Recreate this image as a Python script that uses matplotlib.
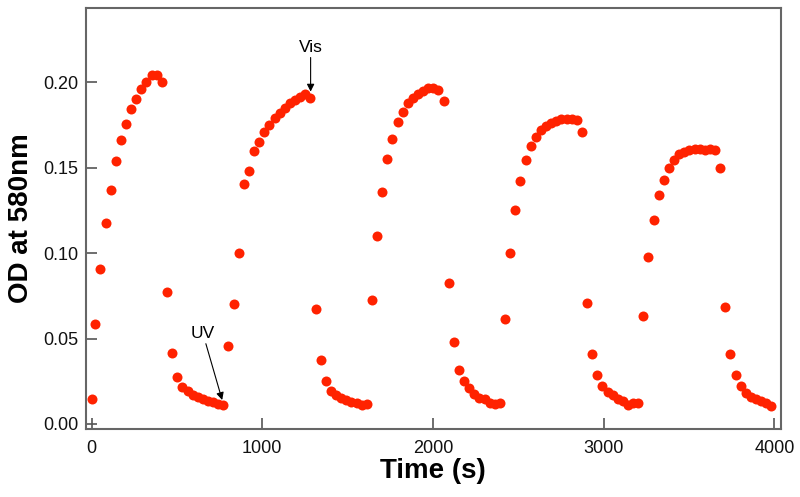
import matplotlib.pyplot as plt

# readings, one list pair per switching cycle
t_cycle1 = [0, 20, 50, 82, 111, 141, 172, 199, 230, 259, 290, 320, 351, 381, 412,
            442, 472, 502, 532, 562, 592, 622, 652, 682, 712, 742, 772]
od_cycle1 = [0.0145, 0.0587, 0.0907, 0.1175, 0.137, 0.1538, 0.166, 0.1756, 0.1844, 0.190,
             0.196, 0.200, 0.2045, 0.2045, 0.200,
             0.0775, 0.0418, 0.0275, 0.0215, 0.019, 0.0172, 0.0157, 0.0145, 0.0135,
             0.0126, 0.0118, 0.0108]

t_cycle2 = [802, 832, 862, 892, 922, 952, 982, 1012, 1042, 1072, 1102, 1132, 1162, 1192,
            1222, 1252, 1282,
            1312, 1342, 1372, 1402, 1432, 1462, 1492, 1522, 1552, 1582, 1612]
od_cycle2 = [0.0458, 0.0704, 0.1003, 0.1403, 0.148, 0.160, 0.165, 0.171, 0.175, 0.179,
             0.182, 0.1848, 0.1878, 0.1897, 0.1916, 0.193, 0.191,
             0.0671, 0.0373, 0.0254, 0.0193, 0.017, 0.0152, 0.0138, 0.0128, 0.0122,
             0.0108, 0.0118]

t_cycle3 = [1642, 1672, 1702, 1732, 1762, 1792, 1822, 1852, 1882, 1912, 1942, 1972, 2002,
            2032, 2062,
            2092, 2122, 2152, 2182, 2212, 2242, 2272, 2302, 2332, 2362, 2392]
od_cycle3 = [0.0724, 0.1103, 0.136, 0.155, 0.167, 0.1766, 0.1827, 0.188, 0.191, 0.1934,
             0.195, 0.197, 0.197, 0.1955, 0.1893,
             0.0825, 0.048, 0.0318, 0.025, 0.021, 0.0176, 0.015, 0.0148, 0.0121,
             0.0117, 0.0121]

t_cycle4 = [2422, 2452, 2482, 2512, 2542, 2572, 2602, 2632, 2662, 2692, 2722, 2752, 2782,
            2812, 2842, 2872,
            2902, 2932, 2962, 2992, 3022, 3052, 3082, 3112, 3142, 3172, 3202]
od_cycle4 = [0.0613, 0.0999, 0.1253, 0.1423, 0.1548, 0.1628, 0.1682, 0.1721, 0.1745,
             0.1764, 0.1776, 0.1784, 0.1786, 0.1784, 0.1782, 0.1708,
             0.071, 0.0408, 0.0287, 0.0222, 0.0187, 0.017, 0.0146, 0.0137, 0.0113,
             0.0121, 0.0121]

t_cycle5 = [3232, 3262, 3292, 3322, 3352, 3382, 3412, 3442, 3472, 3502, 3532, 3562, 3592,
            3622, 3652, 3682,
            3712, 3742, 3772, 3802, 3832, 3862, 3892, 3922, 3952, 3982]
od_cycle5 = [0.0634, 0.0976, 0.1193, 0.1339, 0.143, 0.1497, 0.1544, 0.1583, 0.1593,
             0.1604, 0.1608, 0.161, 0.1604, 0.1612, 0.1604, 0.150,
             0.0683, 0.0408, 0.0287, 0.0222, 0.0183, 0.016, 0.0145, 0.0133, 0.0125,
             0.0107]

x_ticks = [0, 1000, 2000, 3000, 4000]
y_ticks = [0.00, 0.05, 0.10, 0.15, 0.20]

plt.rcParams['font.family'] = ['Liberation Sans', 'DejaVu Sans']

fig = plt.figure(figsize=(8, 4.97), dpi=100)
ax = fig.add_axes([0.107, 0.1374, 0.869, 0.8466])

times = t_cycle1 + t_cycle2 + t_cycle3 + t_cycle4 + t_cycle5
ods = od_cycle1 + od_cycle2 + od_cycle3 + od_cycle4 + od_cycle5
ax.plot(times, ods, 'o', color='#ff2200', markersize=7.2, markeredgewidth=0, zorder=3)

ax.set_xlim(-35, 4037)
ax.set_ylim(-0.0028, 0.2436)
ax.set_xticks(x_ticks)
ax.set_yticks(y_ticks)
ax.set_yticklabels(['%.2f' % v for v in y_ticks])

for s in ax.spines.values():
    s.set_color('#666666')
    s.set_linewidth(1.5)
ax.tick_params(direction='in', length=8, width=1.2, color='#555555',
               labelsize=13, labelcolor='#111111')
ax.tick_params(axis='x', pad=8)
ax.tick_params(axis='y', pad=5)

ax.set_xlabel('Time (s)', fontsize=20, fontweight='bold', labelpad=1)
ax.set_ylabel('OD at 580nm', fontsize=20, fontweight='bold', labelpad=7)

arrow = dict(arrowstyle='-|>', color='black', lw=0.8, mutation_scale=11,
             shrinkA=0, shrinkB=0)
ax.annotate('UV', xy=(765, 0.014), xytext=(652, 0.053), fontsize=12.5,
            ha='center', va='center', arrowprops=arrow)
ax.annotate('Vis', xy=(1283, 0.1946), xytext=(1283, 0.2206), fontsize=12.5,
            ha='center', va='center', arrowprops=arrow)

fig.savefig('out.png', dpi=100)
